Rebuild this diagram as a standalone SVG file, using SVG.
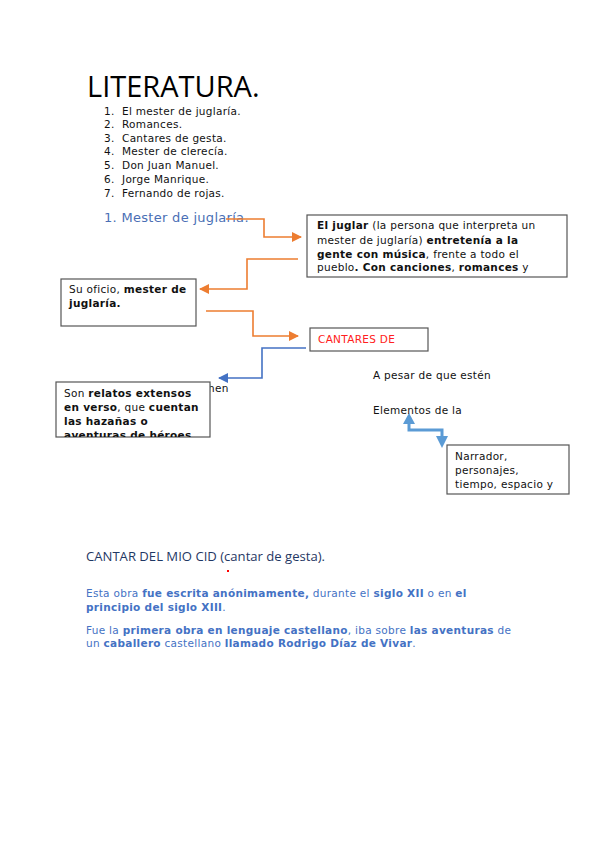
<svg xmlns="http://www.w3.org/2000/svg" width="599" height="848" viewBox="0 0 599 848">
<style>
text{font-family:"DejaVu Sans","Liberation Sans",sans-serif;font-size:10.5px;fill:#111;letter-spacing:0.3px}
.b{font-weight:bold}
.box{fill:#fff;stroke:#555;stroke-width:1.2}
.or{fill:none;stroke:#ed7d31;stroke-width:1.6}
.bl{fill:none;stroke:#4472c4;stroke-width:1.6}
.para{fill:#4472c4;font-size:10.5px}
</style>
<defs>
<marker id="ao" markerWidth="10" markerHeight="10" refX="9" refY="5" orient="auto" markerUnits="userSpaceOnUse" viewBox="0 0 10 10"><path d="M0,0L10,5L0,10z" fill="#ed7d31"/></marker>
<marker id="ab" markerWidth="10" markerHeight="10" refX="9" refY="5" orient="auto" markerUnits="userSpaceOnUse" viewBox="0 0 10 10"><path d="M0,0L10,5L0,10z" fill="#4472c4"/></marker>
<clipPath id="c4"><rect x="56" y="382" width="154" height="55"/></clipPath>
</defs>
<g id="header">
<text x="87" y="97" style="font-family:'Open Sans','DejaVu Sans',sans-serif;font-size:29px;fill:#000;letter-spacing:0">LITERATURA.</text>
<text x="104" y="115">1.</text><text x="122" y="115">El mester de juglaría.</text>
<text x="104" y="128">2.</text><text x="122" y="128">Romances.</text>
<text x="104" y="142">3.</text><text x="122" y="142">Cantares de gesta.</text>
<text x="104" y="155">4.</text><text x="122" y="155">Mester de clerecía.</text>
<text x="104" y="169">5.</text><text x="122" y="169">Don Juan Manuel.</text>
<text x="104" y="183">6.</text><text x="122" y="183">Jorge Manrique.</text>
<text x="104" y="197">7.</text><text x="122" y="197">Fernando de rojas.</text>
<text x="104" y="222" style="font-size:13px;fill:#4a6fb5">1. Mester de juglaría.</text>
</g>
<g id="connectors">
<path class="or" d="M226,219H264V237H301" marker-end="url(#ao)"/>
<path class="or" d="M298,259H247V289H200" marker-end="url(#ao)"/>
<path class="or" d="M206,311H253V336H298" marker-end="url(#ao)"/>
<path class="bl" d="M306,348H262V378H219" marker-end="url(#ab)"/>
<path d="M409,424V430H442V436" fill="none" stroke="#5b9bd5" stroke-width="3"/>
<path d="M409,413L403,424H415z" fill="#5b9bd5"/>
<path d="M442,448L436,436H448z" fill="#5b9bd5"/>
</g>
<g id="n-juglar">
<rect class="box" x="307" y="215" width="260" height="62"/>
<text x="317" y="229"><tspan class="b">El juglar</tspan> (la persona que interpreta un</text>
<text x="317" y="244">mester de juglaría) <tspan class="b">entretenía a la</tspan></text>
<text x="317" y="258"><tspan class="b">gente con música</tspan>, frente a todo el</text>
<text x="317" y="271">pueblo<tspan class="b">. Con canciones</tspan>, <tspan class="b">romances</tspan> y</text>
</g>
<g id="n-oficio">
<rect class="box" x="61" y="279" width="135" height="47"/>
<text x="69" y="293">Su oficio, <tspan class="b">mester de</tspan></text>
<text x="69" y="307" class="b">juglaría.</text>
</g>
<g id="n-cantares">
<rect class="box" x="310" y="328" width="118" height="23"/>
<text x="318" y="343" style="fill:#ff2020">CANTARES DE</text>
</g>
<g id="n-hen">
<text x="208" y="392">hen</text>
</g>
<g id="n-relatos">
<rect class="box" x="56" y="382" width="154" height="55"/>
<g clip-path="url(#c4)">
<text x="64" y="397">Son <tspan class="b">relatos extensos</tspan></text>
<text x="64" y="411"><tspan class="b">en verso</tspan>, que <tspan class="b">cuentan</tspan></text>
<text x="64" y="425" class="b">las hazañas o</text>
<text x="64" y="439" class="b">aventuras de héroes</text>
</g>
</g>
<g id="n-pesar"><text x="373" y="379">A pesar de que estén</text></g>
<g id="n-elementos"><text x="373" y="414">Elementos de la</text></g>
<g id="n-narrador">
<rect class="box" x="447" y="445" width="122" height="49"/>
<text x="455" y="460">Narrador,</text>
<text x="455" y="474">personajes,</text>
<text x="455" y="488">tiempo, espacio y</text>
</g>
<g id="cid">
<text x="86" y="561" style="font-family:'Open Sans','DejaVu Sans',sans-serif;font-size:13.1px;fill:#1f3864;letter-spacing:0">CANTAR DEL MIO CID (cantar de gesta).</text>
<rect x="227" y="570" width="2" height="2" fill="#ff0000"/>
<text x="86" y="597" class="para">Esta obra <tspan class="b">fue escrita anónimamente,</tspan> durante el <tspan class="b">siglo XII</tspan> o en <tspan class="b">el</tspan></text>
<text x="86" y="611" class="para b">principio del siglo XIII<tspan style="font-weight:normal">.</tspan></text>
<text x="86" y="634" class="para">Fue la <tspan class="b">primera obra en lenguaje castellano</tspan>, iba sobre <tspan class="b">las aventuras</tspan> de</text>
<text x="86" y="647" class="para">un <tspan class="b">caballero</tspan> castellano <tspan class="b">llamado Rodrigo Díaz de Vivar</tspan>.</text>
</g>
</svg>
